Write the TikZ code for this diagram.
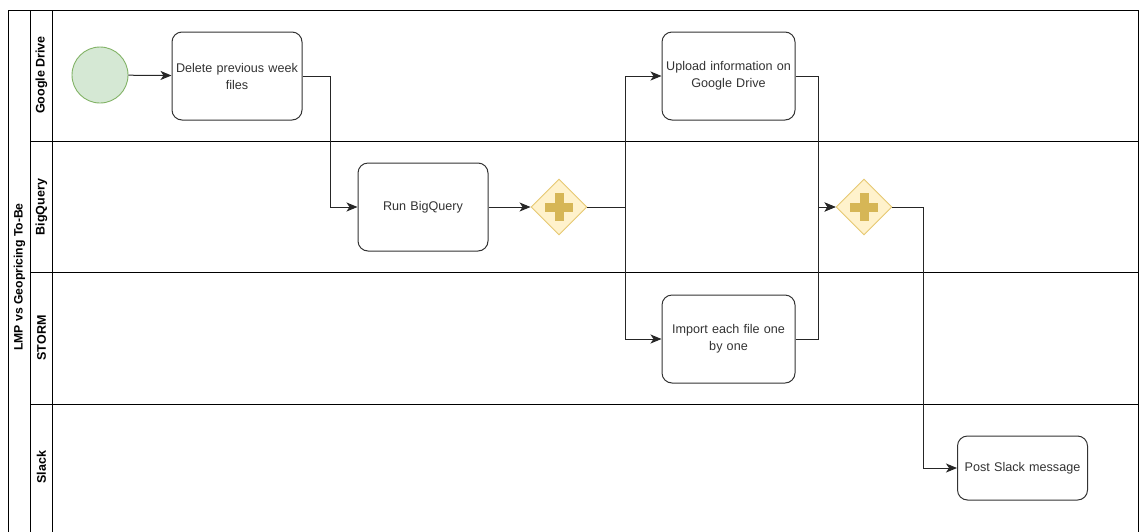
\documentclass[tikz,border=0pt]{standalone}
\usepackage{fontspec}
\setmainfont{Liberation Sans}
\usetikzlibrary{shapes.geometric,arrows.meta}
\definecolor{startfill}{HTML}{D5E8D4}
\definecolor{startdraw}{HTML}{82B366}
\definecolor{gwfill}{HTML}{FFF2CC}
\definecolor{gwdraw}{HTML}{E6C872}
\definecolor{gwplus}{HTML}{D6B656}
\definecolor{boxdraw}{HTML}{333333}
\tikzset{
  lanelabel/.style={rotate=90,font=\fontsize{12.5}{14}\selectfont\bfseries,inner sep=0pt},
  task/.style={draw=boxdraw,line width=1pt,rounded corners=10pt,fill=white,
    minimum width=130pt,minimum height=88pt,align=center,text width=128pt,
    font=\fontsize{12.6}{17}\selectfont,text=boxdraw,inner sep=1pt},
  startev/.style={circle,draw=startdraw,fill=startfill,line width=0.9pt,minimum size=56pt,inner sep=0pt},
  gateway/.style={diamond,draw=gwdraw,fill=gwfill,line width=0.9pt,minimum width=56pt,minimum height=56pt,inner sep=0pt},
  flow/.style={draw=black!85,line width=1pt,-{Stealth[length=11pt,width=9pt,inset=3pt]}},
  flowplain/.style={draw=black!85,line width=1pt},
  lanerule/.style={draw=black,line width=0.9pt}
}
\begin{document}
\begin{tikzpicture}[x=1pt,y=-1pt]
\useasboundingbox (0,0) rectangle (1139,531);
\fill[white] (0,0) rectangle (1139,531);
\begin{scope}
\clip (0,0) rectangle (1139,531);
% pool and lanes
\draw[lanerule] (8,545) -- (8,10) -- (1138,10) -- (1138,545);
\draw[lanerule] (30,10) -- (30,545);
\draw[lanerule] (52,10) -- (52,545);
\draw[lanerule] (30,141) -- (1138,141);
\draw[lanerule] (30,272) -- (1138,272);
\draw[lanerule] (30,404) -- (1138,404);
\end{scope}
\node[lanelabel,font=\fontsize{12.2}{14}\selectfont\bfseries] (pool) at (19.5,277) {LMP vs Geopricing To-Be};
\node[lanelabel] (l1) at (41.5,75) {Google Drive};
\node[lanelabel] (l2) at (41.5,207) {BigQuery};
\node[lanelabel] (l3) at (41.5,338) {STORM};
\node[lanelabel] (l4) at (41.5,467) {Slack};
% nodes
\node[startev] (start) at (100,75) {};
\node[task] (del) at (237,76) {Delete previous week\\files};
\node[task] (run) at (423,207) {Run BigQuery};
\node[gateway] (g1) at (559,207) {};
\node[task,minimum width=133pt] (up) at (728.5,76) {Upload information on\\Google Drive};
\node[task,minimum width=133pt] (imp) at (728.5,339) {Import each file one\\by one};
\node[gateway] (g2) at (864,207) {};
\node[task,minimum height=64pt] (post) at (1022.5,468) {Post Slack message};
% plus signs
\foreach \g in {g1,g2}{
  \fill[gwplus] ([xshift=-4.5pt,yshift=-14pt]\g.center) rectangle ([xshift=4.5pt,yshift=14pt]\g.center);
  \fill[gwplus] ([xshift=-14pt,yshift=-4.5pt]\g.center) rectangle ([xshift=14pt,yshift=4.5pt]\g.center);
}
% flows
\draw[flow] (start) -- (del);
\draw[flow] (del.east) -- ++(28,0) |- (run.west);
\draw[flow] (run) -- (g1);
\draw[flowplain] (g1.east) -- ++(38,0) coordinate (fork);
\draw[flow] (fork) |- (up.west);
\draw[flow] (fork) |- (imp.west);
\draw[flow] (up.east) -- ++(23,0) |- (g2.west);
\draw[flow] (imp.east) -- ++(23,0) |- (g2.west);
\draw[flow] (g2.east) -- ++(31,0) |- (post.west);
\end{tikzpicture}
\end{document}
